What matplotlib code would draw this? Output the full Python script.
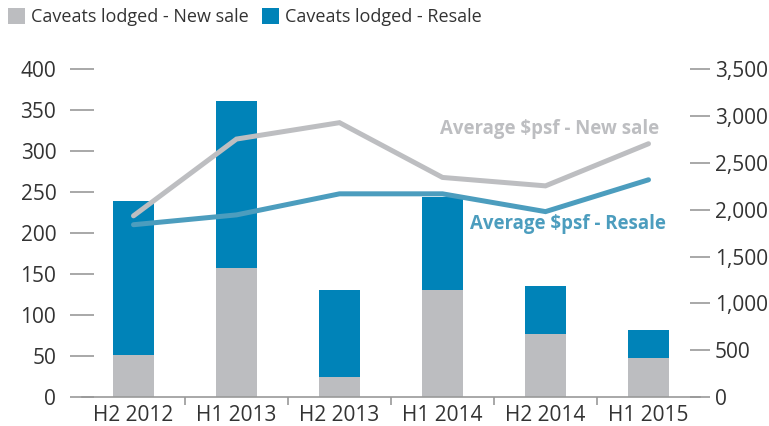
import matplotlib
matplotlib.use("Agg")
import matplotlib.pyplot as plt
import numpy as np

categories = ["H2 2012", "H1 2013", "H2 2013", "H1 2014", "H2 2014", "H1 2015"]
caveats_new = [51, 158, 24, 131, 77, 47]
caveats_resale_total = [239, 361, 131, 244, 135, 82]
caveats_resale = [t - n for t, n in zip(caveats_resale_total, caveats_new)]
psf_new = [1935, 2755, 2930, 2345, 2255, 2705]
psf_resale = [1840, 1945, 2170, 2170, 1980, 2320]
left_ticks = [0, 50, 100, 150, 200, 250, 300, 350, 400]
right_ticks = [0, 500, 1000, 1500, 2000, 2500, 3000, 3500]

plt.rcParams['font.family'] = ['Open Sans', 'DejaVu Sans']
TXT = "#333333"
GREY = "#bcbdc0"
BLUE = "#0083b8"
LGREY = "#bdbec1"
LBLUE = "#4c9dbe"
TICKC = "#999999"

fig = plt.figure(figsize=(7.69, 4.26), dpi=100)
ax = fig.add_axes([82/769, 29/426, 618/769, 327.7/426])
x = np.arange(len(categories))
ax.bar(x, caveats_new, width=0.4, color=GREY, label="Caveats lodged - New sale")
ax.bar(x, caveats_resale, width=0.4, bottom=caveats_new, color=BLUE, label="Caveats lodged - Resale")
ax.set_xlim(-0.5, len(categories) - 0.5)
ax.set_ylim(0, 400)
ax.set_yticks(left_ticks)
ax.set_yticklabels([str(v) for v in left_ticks])
ax.set_xticks(x)
ax.set_xticklabels(categories)
ax.set_xticks(np.arange(0.5, len(categories) - 0.5, 1), minor=True)
ax.tick_params(axis='x', which='major', length=0, pad=6, labelsize=15, labelcolor=TXT)
ax.tick_params(axis='x', which='minor', length=6, color=TICKC, width=1.2, direction='out')
ax.tick_params(axis='y', length=17, direction='inout', color=TICKC, width=1.2,
               pad=10, labelsize=15, labelcolor=TXT)
for s in ['top', 'right', 'left']:
    ax.spines[s].set_visible(False)
ax.spines['bottom'].set_color(TICKC)
ax.spines['bottom'].set_linewidth(1.2)

ax2 = ax.twinx()
ax2.plot(x, psf_new, color=LGREY, lw=3.6, solid_capstyle='round', solid_joinstyle='miter')
ax2.plot(x, psf_resale, color=LBLUE, lw=3.6, solid_capstyle='round', solid_joinstyle='miter')
ax2.set_ylim(0, 3500)
ax2.set_yticks(right_ticks)
ax2.set_yticklabels([f"{v:,}" for v in right_ticks])
ax2.tick_params(axis='y', length=15, direction='inout', color=TICKC, width=1.2,
                pad=3, labelsize=15, labelcolor=TXT)
for s in ['top', 'right', 'left', 'bottom']:
    ax2.spines[s].set_visible(False)

ax2.text(4.04, 2860, "Average $psf - New sale", color=LGREY, fontsize=13.4,
         fontweight='bold', ha='center', va='center')
ax2.text(4.22, 1850, "Average $psf - Resale", color=LBLUE, fontsize=13.4,
         fontweight='bold', ha='center', va='center')

handles, labels = ax.get_legend_handles_labels()
fig.legend(handles, labels, loc='upper left', bbox_to_anchor=(0.0, 1.0), ncol=2,
           frameon=False, fontsize=13.0, handlelength=0.95, handleheight=0.95,
           handletextpad=0.3, columnspacing=0.75, labelcolor=TXT, borderaxespad=0.15,
           borderpad=0.3)

fig.savefig("out.png", dpi=100)
